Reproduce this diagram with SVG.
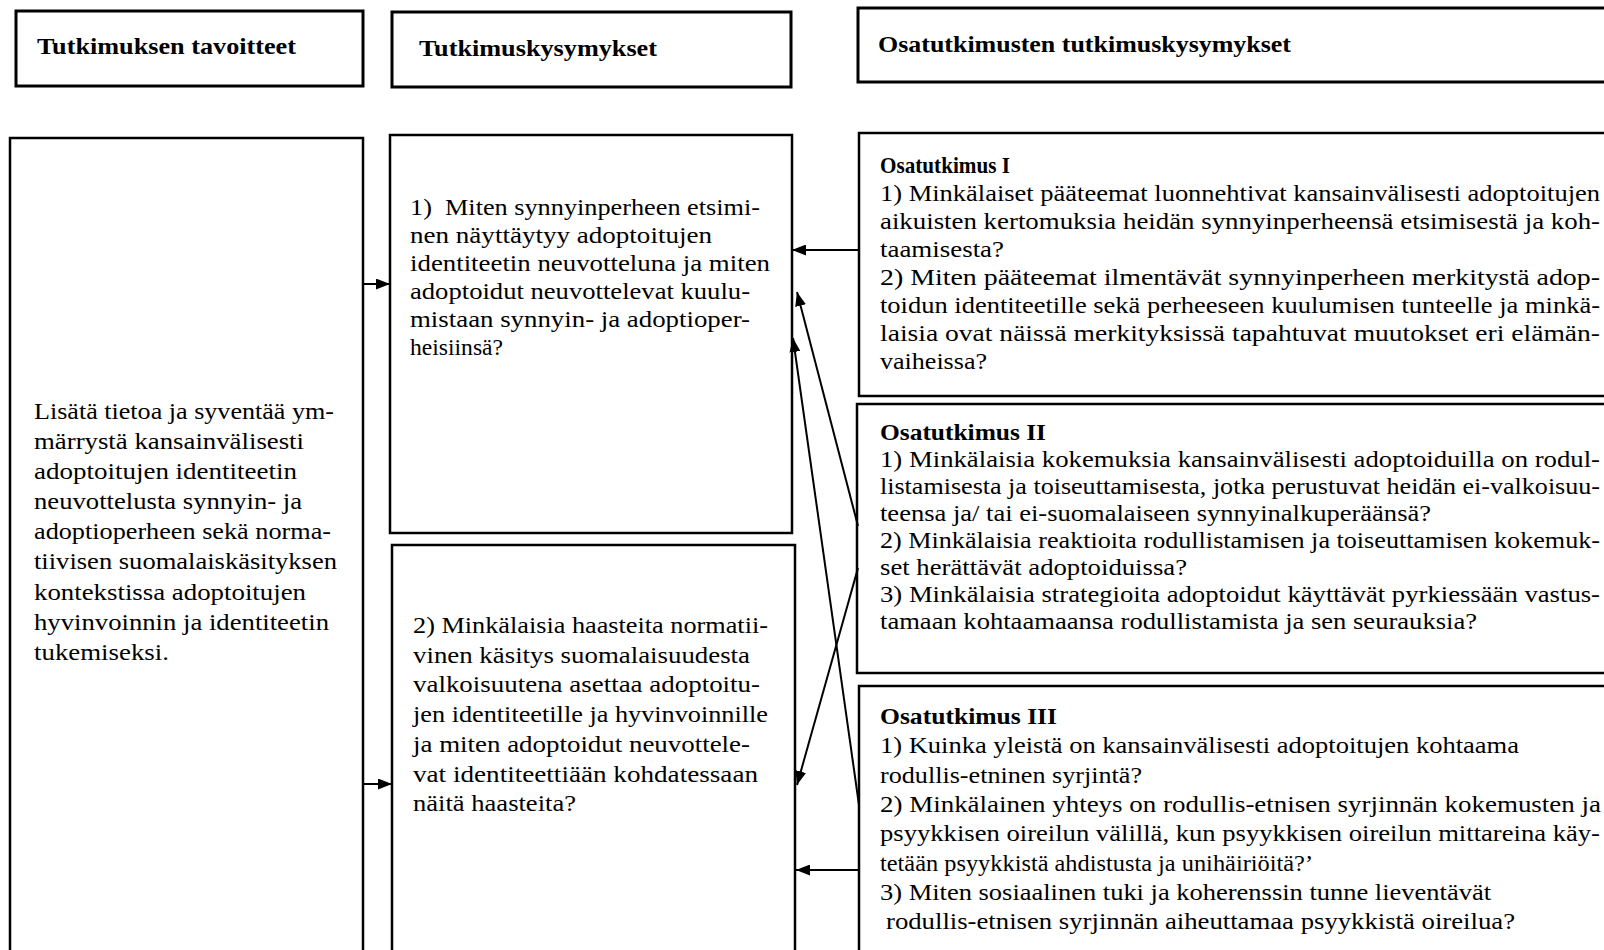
<svg xmlns="http://www.w3.org/2000/svg" width="1604" height="950" viewBox="0 0 1604 950">
<style>
.box{fill:#fff;stroke:#000;stroke-width:2.5}
.hbox{fill:#fff;stroke:#000;stroke-width:3}
.hdr{font-family:"Liberation Serif",serif;font-weight:bold;font-size:24px;fill:#000}
.tt{font-family:"Liberation Serif",serif;font-size:23px;fill:#000}
.os{font-family:"Liberation Serif",serif;font-size:24px;fill:#000}
.ost{font-family:"Liberation Serif",serif;font-weight:bold;font-size:24px;fill:#000}
.conn{stroke:#000;stroke-width:2;fill:none;marker-end:url(#ah)}
</style>
<defs>
<marker id="ah" markerUnits="userSpaceOnUse" markerWidth="15" markerHeight="11" refX="14" refY="5.5" orient="auto">
<path d="M0,0 L14,5.5 L0,11 z" fill="#000"/>
</marker>
</defs>
<rect width="1604" height="950" fill="#fff"/>

<g id="header-goals">
<rect class="hbox" x="16" y="11" width="347" height="75"/>
<text class="hdr" x="37" y="54" textLength="259" lengthAdjust="spacingAndGlyphs">Tutkimuksen tavoitteet</text>
</g>
<g id="header-questions">
<rect class="hbox" x="392" y="12" width="399" height="75"/>
<text class="hdr" x="419" y="56" textLength="238" lengthAdjust="spacingAndGlyphs">Tutkimuskysymykset</text>
</g>
<g id="header-subquestions">
<rect class="hbox" x="858" y="8" width="760" height="74"/>
<text class="hdr" x="878" y="52" textLength="413" lengthAdjust="spacingAndGlyphs">Osatutkimusten tutkimuskysymykset</text>
</g>

<g id="goal">
<rect class="box" x="10" y="138" width="353" height="830"/>
<text class="tt" x="34" y="419" textLength="300" lengthAdjust="spacingAndGlyphs">Lisätä tietoa ja syventää ym-</text>
<text class="tt" x="34" y="449" textLength="270" lengthAdjust="spacingAndGlyphs">märrystä kansainvälisesti</text>
<text class="tt" x="34" y="479" textLength="263" lengthAdjust="spacingAndGlyphs">adoptoitujen identiteetin</text>
<text class="tt" x="34" y="509" textLength="268" lengthAdjust="spacingAndGlyphs">neuvottelusta synnyin- ja</text>
<text class="tt" x="34" y="539" textLength="297" lengthAdjust="spacingAndGlyphs">adoptioperheen sekä norma-</text>
<text class="tt" x="34" y="569" textLength="303" lengthAdjust="spacingAndGlyphs">tiivisen suomalaiskäsityksen</text>
<text class="tt" x="34" y="600" textLength="272" lengthAdjust="spacingAndGlyphs">kontekstissa adoptoitujen</text>
<text class="tt" x="34" y="630" textLength="295" lengthAdjust="spacingAndGlyphs">hyvinvoinnin ja identiteetin</text>
<text class="tt" x="34" y="660" textLength="135" lengthAdjust="spacingAndGlyphs">tukemiseksi.</text>
</g>

<g id="q1">
<rect class="box" x="390" y="135" width="402" height="398"/>
<text class="tt" x="410" y="215" textLength="350" lengthAdjust="spacingAndGlyphs" xml:space="preserve">1)  Miten synnyinperheen etsimi-</text>
<text class="tt" x="410" y="243" textLength="302" lengthAdjust="spacingAndGlyphs">nen näyttäytyy adoptoitujen</text>
<text class="tt" x="410" y="271" textLength="360" lengthAdjust="spacingAndGlyphs">identiteetin neuvotteluna ja miten</text>
<text class="tt" x="410" y="299" textLength="340" lengthAdjust="spacingAndGlyphs">adoptoidut neuvottelevat kuulu-</text>
<text class="tt" x="410" y="327" textLength="340" lengthAdjust="spacingAndGlyphs">mistaan synnyin- ja adoptioper-</text>
<text class="tt" x="410" y="355" textLength="93" lengthAdjust="spacingAndGlyphs">heisiinsä?</text>
</g>

<g id="q2">
<rect class="box" x="392" y="545" width="403" height="420"/>
<text class="tt" x="413" y="633" textLength="355" lengthAdjust="spacingAndGlyphs">2) Minkälaisia haasteita normatii-</text>
<text class="tt" x="413" y="663" textLength="337" lengthAdjust="spacingAndGlyphs">vinen käsitys suomalaisuudesta</text>
<text class="tt" x="413" y="692" textLength="347" lengthAdjust="spacingAndGlyphs">valkoisuutena asettaa adoptoitu-</text>
<text class="tt" x="413" y="722" textLength="355" lengthAdjust="spacingAndGlyphs">jen identiteetille ja hyvinvoinnille</text>
<text class="tt" x="413" y="752" textLength="337" lengthAdjust="spacingAndGlyphs">ja miten adoptoidut neuvottele-</text>
<text class="tt" x="413" y="782" textLength="345" lengthAdjust="spacingAndGlyphs">vat identiteettiään kohdatessaan</text>
<text class="tt" x="413" y="811" textLength="163" lengthAdjust="spacingAndGlyphs">näitä haasteita?</text>
</g>

<g id="os1">
<rect class="box" x="859" y="133" width="760" height="263"/>
<text class="ost" x="880" y="173" textLength="130" lengthAdjust="spacingAndGlyphs">Osatutkimus I</text>
<text class="os" x="880" y="201" textLength="720" lengthAdjust="spacingAndGlyphs">1) Minkälaiset pääteemat luonnehtivat kansainvälisesti adoptoitujen</text>
<text class="os" x="880" y="229" textLength="720" lengthAdjust="spacingAndGlyphs">aikuisten kertomuksia heidän synnyinperheensä etsimisestä ja koh-</text>
<text class="os" x="880" y="257" textLength="124" lengthAdjust="spacingAndGlyphs">taamisesta?</text>
<text class="os" x="880" y="285" textLength="720" lengthAdjust="spacingAndGlyphs">2) Miten pääteemat ilmentävät synnyinperheen merkitystä adop-</text>
<text class="os" x="880" y="313" textLength="720" lengthAdjust="spacingAndGlyphs">toidun identiteetille sekä perheeseen kuulumisen tunteelle ja minkä-</text>
<text class="os" x="880" y="341" textLength="720" lengthAdjust="spacingAndGlyphs">laisia ovat näissä merkityksissä tapahtuvat muutokset eri elämän-</text>
<text class="os" x="880" y="369" textLength="107" lengthAdjust="spacingAndGlyphs">vaiheissa?</text>
</g>

<g id="os2">
<rect class="box" x="857" y="404" width="760" height="269"/>
<text class="ost" x="880" y="440" textLength="166" lengthAdjust="spacingAndGlyphs">Osatutkimus II</text>
<text class="os" x="880" y="467" textLength="720" lengthAdjust="spacingAndGlyphs">1) Minkälaisia kokemuksia kansainvälisesti adoptoiduilla on rodul-</text>
<text class="os" x="880" y="494" textLength="720" lengthAdjust="spacingAndGlyphs">listamisesta ja toiseuttamisesta, jotka perustuvat heidän ei-valkoisuu-</text>
<text class="os" x="880" y="521" textLength="551" lengthAdjust="spacingAndGlyphs">teensa ja/ tai ei-suomalaiseen synnyinalkuperäänsä?</text>
<text class="os" x="880" y="548" textLength="720" lengthAdjust="spacingAndGlyphs">2) Minkälaisia reaktioita rodullistamisen ja toiseuttamisen kokemuk-</text>
<text class="os" x="880" y="575" textLength="307" lengthAdjust="spacingAndGlyphs">set herättävät adoptoiduissa?</text>
<text class="os" x="880" y="602" textLength="720" lengthAdjust="spacingAndGlyphs">3) Minkälaisia strategioita adoptoidut käyttävät pyrkiessään vastus-</text>
<text class="os" x="880" y="629" textLength="597" lengthAdjust="spacingAndGlyphs">tamaan kohtaamaansa rodullistamista ja sen seurauksia?</text>
</g>

<g id="os3">
<rect class="box" x="859" y="686" width="760" height="290"/>
<text class="ost" x="880" y="724" textLength="177" lengthAdjust="spacingAndGlyphs">Osatutkimus III</text>
<text class="os" x="880" y="753" textLength="639" lengthAdjust="spacingAndGlyphs">1) Kuinka yleistä on kansainvälisesti adoptoitujen kohtaama</text>
<text class="os" x="880" y="783" textLength="262" lengthAdjust="spacingAndGlyphs">rodullis-etninen syrjintä?</text>
<text class="os" x="880" y="812" textLength="721" lengthAdjust="spacingAndGlyphs">2) Minkälainen yhteys on rodullis-etnisen syrjinnän kokemusten ja</text>
<text class="os" x="880" y="841" textLength="720" lengthAdjust="spacingAndGlyphs">psyykkisen oireilun välillä, kun psyykkisen oireilun mittareina käy-</text>
<text class="os" x="880" y="871" textLength="433" lengthAdjust="spacingAndGlyphs">tetään psyykkistä ahdistusta ja unihäiriöitä?’</text>
<text class="os" x="880" y="900" textLength="611" lengthAdjust="spacingAndGlyphs">3) Miten sosiaalinen tuki ja koherenssin tunne lieventävät</text>
<text class="os" x="886" y="929" textLength="629" lengthAdjust="spacingAndGlyphs">rodullis-etnisen syrjinnän aiheuttamaa psyykkistä oireilua?</text>
</g>

<g id="connectors">
<line class="conn" x1="363" y1="284" x2="390" y2="284"/>
<line class="conn" x1="363" y1="784" x2="392" y2="784"/>
<line class="conn" x1="859" y1="250" x2="792" y2="250"/>
<line class="conn" x1="858" y1="526" x2="797" y2="292"/>
<line class="conn" x1="859" y1="805" x2="793" y2="338"/>
<line class="conn" x1="858" y1="568" x2="797" y2="785"/>
<line class="conn" x1="859" y1="870" x2="796" y2="870"/>
</g>
</svg>
